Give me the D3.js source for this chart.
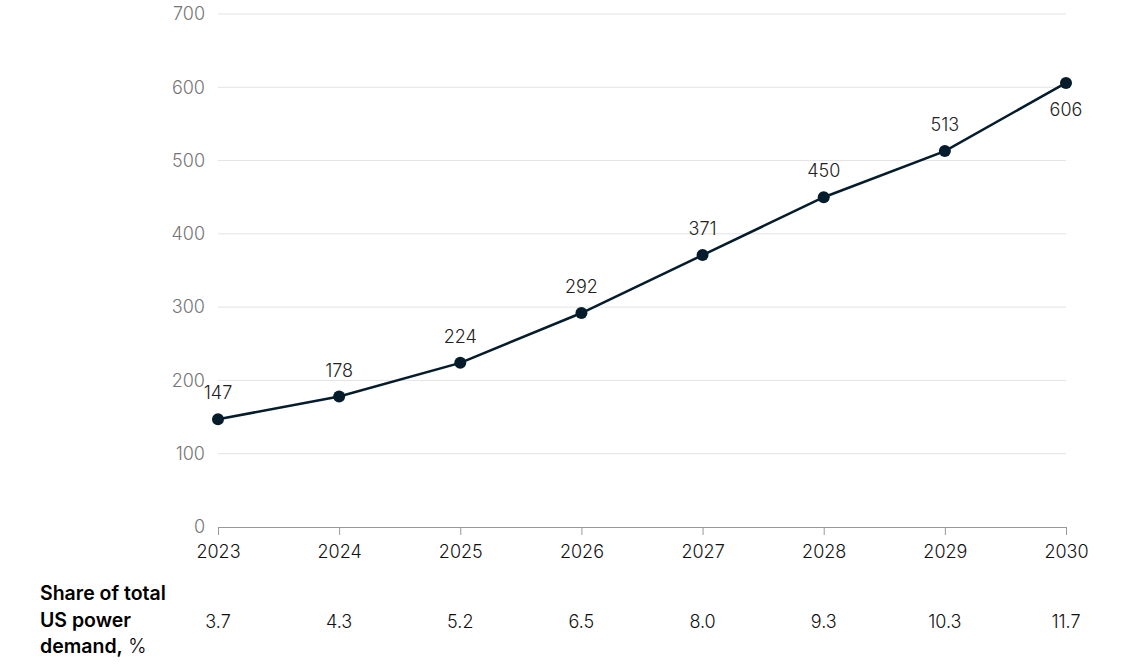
<!DOCTYPE html>
<html>
<head>
<meta charset="utf-8">
<script src="https://cdn.jsdelivr.net/npm/d3@7"></script>
<style>
  body { margin: 0; background: #fff; }
  svg { font-family: Inter, "Noto Sans", sans-serif; font-weight: 300; }
</style>
</head>
<body>
<div id="container"></div>
<script>
// values
const years = [2023, 2024, 2025, 2026, 2027, 2028, 2029, 2030];
const demand = [147, 178, 224, 292, 371, 450, 513, 606];
const share = ["3.7", "4.3", "5.2", "6.5", "8.0", "9.3", "10.3", "11.7"];
const yTicks = [0, 100, 200, 300, 400, 500, 600, 700];
const shareTitle = ["Share of total", "US power", "demand,"];

const width = 1146, height = 670;
const margin = {top: 14, right: 80, bottom: 143, left: 218};
const ink = "#051c2c";

const svg = d3.select("#container").append("svg")
    .attr("width", width)
    .attr("height", height);

const x = d3.scalePoint(years, [margin.left, width - margin.right]);
const y = d3.scaleLinear([0, 700], [height - margin.bottom, margin.top]);

// grid
svg.append("g")
    .selectAll("line")
    .data(yTicks.filter(d => d > 0))
    .join("line")
      .attr("x1", margin.left)
      .attr("x2", width - margin.right)
      .attr("y1", d => y(d))
      .attr("y2", d => y(d))
      .attr("stroke", "#e3e3e3")
      .attr("stroke-width", 1);

// y axis labels
const yAxis = g => g
    .attr("transform", `translate(${margin.left},0)`)
    .call(d3.axisLeft(y).tickValues(yTicks).tickSize(0).tickPadding(13))
    .call(g => g.select(".domain").remove())
    .call(g => g.selectAll("text")
        .attr("fill", "#767676")
        .attr("font-size", 18)
        .attr("font-family", "Inter, sans-serif"));
svg.append("g").call(yAxis);

// x axis
const xAxis = g => g
    .attr("transform", `translate(0,${y(0)})`)
    .call(d3.axisBottom(x).tickSize(8).tickPadding(10))
    .call(g => g.select(".domain").attr("stroke", "#999").attr("d", `M${margin.left},0.5H${width - margin.right}`))
    .call(g => g.selectAll(".tick line").attr("stroke", "#999"))
    .call(g => g.selectAll("text")
        .attr("fill", "#111")
        .attr("font-size", 18)
        .attr("font-family", "Inter, sans-serif"));
svg.append("g").call(xAxis);

// line
const line = d3.line()
    .x((d, i) => x(years[i]))
    .y(d => y(d));

svg.append("path")
    .datum(demand)
    .attr("fill", "none")
    .attr("stroke", ink)
    .attr("stroke-width", 2.5)
    .attr("d", line);

svg.append("g")
    .selectAll("circle")
    .data(demand)
    .join("circle")
      .attr("cx", (d, i) => x(years[i]))
      .attr("cy", d => y(d))
      .attr("r", 6)
      .attr("fill", ink);

// value labels (last one sits below the point)
svg.append("g")
    .attr("font-size", 18)
    .attr("fill", "#222")
    .attr("text-anchor", "middle")
    .selectAll("text")
    .data(demand)
    .join("text")
      .attr("x", (d, i) => x(years[i]))
      .attr("y", (d, i) => i === demand.length - 1 ? y(d) + 33 : y(d) - 20)
      .text(d => d);

// share row
svg.append("g")
    .attr("font-size", 18)
    .attr("fill", "#111")
    .attr("text-anchor", "middle")
    .selectAll("text")
    .data(share)
    .join("text")
      .attr("x", (d, i) => x(years[i]))
      .attr("y", 628)
      .text(d => d);

const title = svg.append("text")
    .attr("x", 40)
    .attr("font-size", 19.5)
    .attr("fill", "#000");
shareTitle.forEach((t, i) => {
  title.append("tspan")
      .attr("x", 40)
      .attr("y", 600 + i * 26.5)
      .attr("font-weight", 600)
      .text(t);
});
title.append("tspan").attr("font-weight", 300).text(" %");
</script>
</body>
</html>
